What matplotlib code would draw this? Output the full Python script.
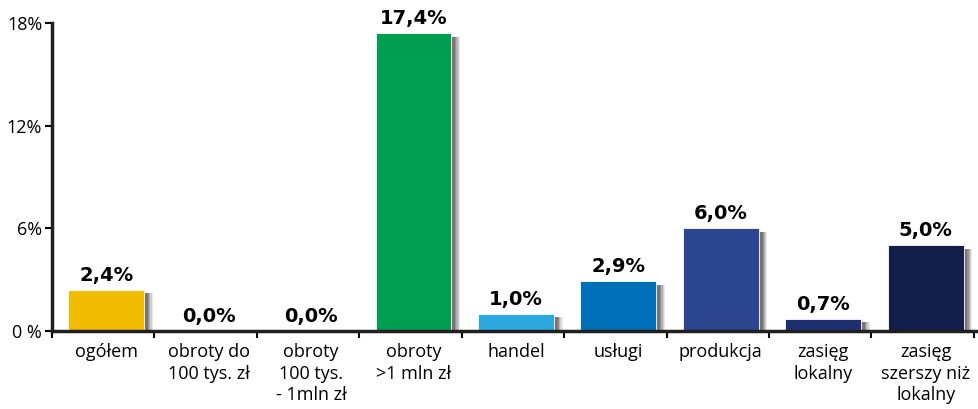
"""Bar chart of shares by firm group (Polish labels)."""

import matplotlib.pyplot as plt
from matplotlib.ticker import FixedLocator

categories = [
    "ogółem",
    "obroty do\n100 tys. zł",
    "obroty\n100 tys.\n- 1mln zł",
    "obroty\n>1 mln zł",
    "handel",
    "usługi",
    "produkcja",
    "zasięg\nlokalny",
    "zasięg\nszerszy niż\nlokalny",
]
values = [2.4, 0.0, 0.0, 17.4, 1.0, 2.9, 6.0, 0.7, 5.0]
colors = ["#F2BC00", "#F2BC00", "#F2BC00", "#009E50", "#2CA9E1",
          "#0071B8", "#2B4590", "#1F2F73", "#141E4A"]
y_ticks = [0, 6, 12, 18]
y_tick_labels = ["0 %", "6%", "12%", "18%"]


def main() -> None:
    fig = plt.figure(figsize=(9.79, 4.09), dpi=100)
    ax = fig.add_axes([0.053, 0.191, 0.947, 0.753])

    pos = [i + 0.53 for i in range(len(values))]
    width = 0.74

    # soft drop shadow: stacked translucent grey bars
    for k, alpha in enumerate([0.10, 0.14, 0.18, 0.24, 0.3]):
        off = 0.085 - k * 0.012
        ax.bar([p + off for p in pos], [max(v - 0.2, 0) for v in values],
               width=width, color="#3a3030", alpha=alpha, linewidth=0, zorder=1)

    ax.bar(pos, values, width=width, color=colors, edgecolor="white",
           linewidth=0.6, zorder=2)

    for p, v in zip(pos, values):
        ax.text(p, v + 0.3, f"{v:.1f}%".replace(".", ","), ha="center",
                va="bottom", fontsize=14, fontweight="heavy",
                family="DejaVu Sans", clip_on=False, zorder=3)

    ax.set_xlim(0, 9.05)
    ax.set_ylim(0, 18)
    ax.set_yticks(y_ticks)
    ax.set_yticklabels(y_tick_labels)
    ax.xaxis.set_major_locator(FixedLocator(list(range(10))))
    ax.set_xticklabels([])
    ax.set_xticks(pos, minor=True)
    ax.set_xticklabels(categories, minor=True, fontsize=13,
                       family="Open Sans", linespacing=1.25)
    ax.tick_params(axis="x", which="minor", length=0, pad=9)
    ax.tick_params(axis="x", which="major", length=5, width=1.5,
                   direction="out")
    ax.tick_params(axis="y", length=5, width=1.5, labelsize=13, pad=2)
    for lab in ax.get_yticklabels():
        lab.set_family("Open Sans")

    for side in ("top", "right"):
        ax.spines[side].set_visible(False)
    for side in ("left", "bottom"):
        ax.spines[side].set_linewidth(2.5)
        ax.spines[side].set_color("#231f20")
    ax.spines["bottom"].set_zorder(4)

    fig.savefig("out.png", dpi=100)
    plt.close(fig)


if __name__ == "__main__":
    main()
